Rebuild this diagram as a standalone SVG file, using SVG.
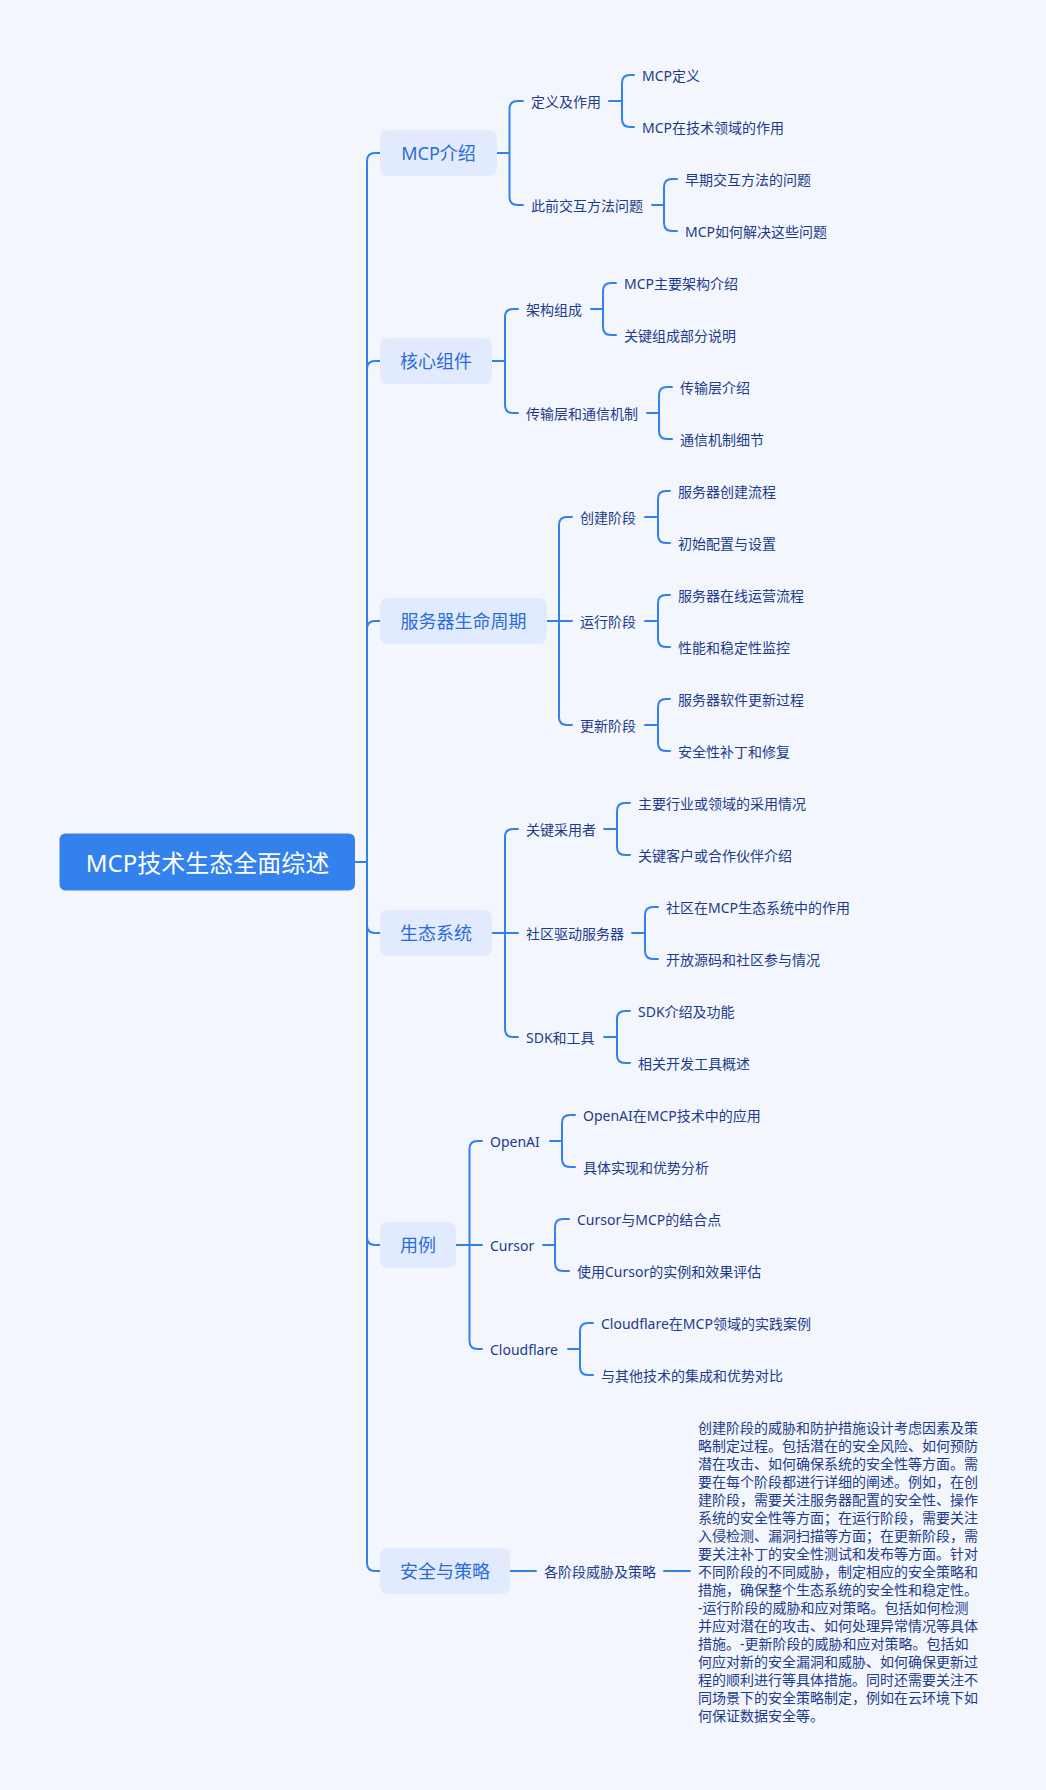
<svg xmlns="http://www.w3.org/2000/svg" width="1046" height="1790" viewBox="0 0 1046 1790">
<style>
text{font-family:"Noto Sans","Noto Sans CJK SC",sans-serif;dominant-baseline:central}
.ln{fill:none;stroke:#3381ED;stroke-width:2;stroke-linecap:round;stroke-linejoin:round}
.rootbox{fill:#3381EC}
.l1box{fill:#E2EBFD}
.t0{font-size:24px;fill:#FFFFFF;text-anchor:middle}
.t1{font-size:18px;fill:#2B6CDC;text-anchor:middle}
.t2{font-size:14px;fill:#213B8C}
</style>
<rect x="0" y="0" width="1046" height="1790" fill="#F4F6FD"/>
<g id="connectors" class="ln">
<path d="M355,862 H367"/>
<path d="M367,862 V161 Q367,153 375,153 H380"/>
<path d="M367,862 V369 Q367,361 375,361 H380"/>
<path d="M367,862 V629 Q367,621 375,621 H380"/>
<path d="M367,862 V925 Q367,933 375,933 H380"/>
<path d="M367,862 V1237 Q367,1245 375,1245 H380"/>
<path d="M367,862 V1563 Q367,1571 375,1571 H380"/>
<path d="M497,153 H509.5 M509.5,153 V109 Q509.5,101 517.5,101 H523 M509.5,153 V197 Q509.5,205 517.5,205 H523"/>
<path d="M492,361 H505 M505,361 V317 Q505,309 513,309 H518 M505,361 V405 Q505,413 513,413 H518"/>
<path d="M547,621 H572 M559,621 V525 Q559,517 567,517 H572 M559,621 V717 Q559,725 567,725 H572"/>
<path d="M492,933 H518 M505,933 V837 Q505,829 513,829 H518 M505,933 V1029 Q505,1037 513,1037 H518"/>
<path d="M456,1245 H482 M469.5,1245 V1149 Q469.5,1141 477.5,1141 H482 M469.5,1245 V1341 Q469.5,1349 477.5,1349 H482"/>
<path d="M510,1571 H536"/>
<path d="M609,101 H622 M622,101 V83 Q622,75 630,75 H634 M622,101 V119 Q622,127 630,127 H634"/>
<path d="M652,205 H664 M664,205 V187 Q664,179 672,179 H677 M664,205 V223 Q664,231 672,231 H677"/>
<path d="M591,309 H603 M603,309 V291 Q603,283 611,283 H616 M603,309 V327 Q603,335 611,335 H616"/>
<path d="M647,413 H659 M659,413 V395 Q659,387 667,387 H672 M659,413 V431 Q659,439 667,439 H672"/>
<path d="M645,517 H658 M658,517 V499 Q658,491 666,491 H670 M658,517 V535 Q658,543 666,543 H670"/>
<path d="M645,621 H658 M658,621 V603 Q658,595 666,595 H670 M658,621 V639 Q658,647 666,647 H670"/>
<path d="M645,725 H658 M658,725 V707 Q658,699 666,699 H670 M658,725 V743 Q658,751 666,751 H670"/>
<path d="M604,829 H617 M617,829 V811 Q617,803 625,803 H630 M617,829 V847 Q617,855 625,855 H630"/>
<path d="M632,933 H645 M645,933 V915 Q645,907 653,907 H658 M645,933 V951 Q645,959 653,959 H658"/>
<path d="M604,1037 H617 M617,1037 V1019 Q617,1011 625,1011 H630 M617,1037 V1055 Q617,1063 625,1063 H630"/>
<path d="M550,1141 H562 M562,1141 V1123 Q562,1115 570,1115 H575 M562,1141 V1159 Q562,1167 570,1167 H575"/>
<path d="M543,1245 H555 M555,1245 V1227 Q555,1219 563,1219 H569 M555,1245 V1263 Q555,1271 563,1271 H569"/>
<path d="M568,1349 H580 M580,1349 V1331 Q580,1323 588,1323 H593 M580,1349 V1367 Q580,1375 588,1375 H593"/>
<path d="M664,1571 H690"/>
</g>
<g id="root"><rect class="rootbox" x="59.5" y="833.5" width="295.5" height="57" rx="6"/><text class="t0" x="207.5" y="862">MCP技术生态全面综述</text></g>
<g id="n-mcp-intro"><rect class="l1box" x="380" y="130" width="117" height="46" rx="8"/><text class="t1" x="438.5" y="153">MCP介绍</text></g>
<g id="n-core"><rect class="l1box" x="380" y="338" width="112" height="46" rx="8"/><text class="t1" x="436" y="361">核心组件</text></g>
<g id="n-lifecycle"><rect class="l1box" x="380" y="598" width="167" height="46" rx="8"/><text class="t1" x="463.5" y="621">服务器生命周期</text></g>
<g id="n-eco"><rect class="l1box" x="380" y="910" width="112" height="46" rx="8"/><text class="t1" x="436" y="933">生态系统</text></g>
<g id="n-usecase"><rect class="l1box" x="380" y="1222" width="76" height="46" rx="8"/><text class="t1" x="418" y="1245">用例</text></g>
<g id="n-security"><rect class="l1box" x="380" y="1548" width="130" height="46" rx="8"/><text class="t1" x="445" y="1571">安全与策略</text></g>
<g id="n-def"><text class="t2" x="531" y="101">定义及作用</text></g>
<g id="n-prev"><text class="t2" x="531" y="205">此前交互方法问题</text></g>
<g id="n-arch"><text class="t2" x="526" y="309">架构组成</text></g>
<g id="n-trans"><text class="t2" x="526" y="413">传输层和通信机制</text></g>
<g id="n-create"><text class="t2" x="580" y="517">创建阶段</text></g>
<g id="n-run"><text class="t2" x="580" y="621">运行阶段</text></g>
<g id="n-update"><text class="t2" x="580" y="725">更新阶段</text></g>
<g id="n-adopt"><text class="t2" x="526" y="829">关键采用者</text></g>
<g id="n-community"><text class="t2" x="526" y="933">社区驱动服务器</text></g>
<g id="n-sdk"><text class="t2" x="526" y="1037">SDK和工具</text></g>
<g id="n-openai"><text class="t2" x="490" y="1141">OpenAI</text></g>
<g id="n-cursor"><text class="t2" x="490" y="1245">Cursor</text></g>
<g id="n-cloudflare"><text class="t2" x="490" y="1349">Cloudflare</text></g>
<g id="n-threat"><text class="t2" x="544" y="1571">各阶段威胁及策略</text></g>
<g id="leaf-1"><text class="t2" x="642" y="75">MCP定义</text></g>
<g id="leaf-2"><text class="t2" x="642" y="127">MCP在技术领域的作用</text></g>
<g id="leaf-3"><text class="t2" x="685" y="179">早期交互方法的问题</text></g>
<g id="leaf-4"><text class="t2" x="685" y="231">MCP如何解决这些问题</text></g>
<g id="leaf-5"><text class="t2" x="624" y="283">MCP主要架构介绍</text></g>
<g id="leaf-6"><text class="t2" x="624" y="335">关键组成部分说明</text></g>
<g id="leaf-7"><text class="t2" x="680" y="387">传输层介绍</text></g>
<g id="leaf-8"><text class="t2" x="680" y="439">通信机制细节</text></g>
<g id="leaf-9"><text class="t2" x="678" y="491">服务器创建流程</text></g>
<g id="leaf-10"><text class="t2" x="678" y="543">初始配置与设置</text></g>
<g id="leaf-11"><text class="t2" x="678" y="595">服务器在线运营流程</text></g>
<g id="leaf-12"><text class="t2" x="678" y="647">性能和稳定性监控</text></g>
<g id="leaf-13"><text class="t2" x="678" y="699">服务器软件更新过程</text></g>
<g id="leaf-14"><text class="t2" x="678" y="751">安全性补丁和修复</text></g>
<g id="leaf-15"><text class="t2" x="638" y="803">主要行业或领域的采用情况</text></g>
<g id="leaf-16"><text class="t2" x="638" y="855">关键客户或合作伙伴介绍</text></g>
<g id="leaf-17"><text class="t2" x="666" y="907">社区在MCP生态系统中的作用</text></g>
<g id="leaf-18"><text class="t2" x="666" y="959">开放源码和社区参与情况</text></g>
<g id="leaf-19"><text class="t2" x="638" y="1011">SDK介绍及功能</text></g>
<g id="leaf-20"><text class="t2" x="638" y="1063">相关开发工具概述</text></g>
<g id="leaf-21"><text class="t2" x="583" y="1115">OpenAI在MCP技术中的应用</text></g>
<g id="leaf-22"><text class="t2" x="583" y="1167">具体实现和优势分析</text></g>
<g id="leaf-23"><text class="t2" x="577" y="1219">Cursor与MCP的结合点</text></g>
<g id="leaf-24"><text class="t2" x="577" y="1271">使用Cursor的实例和效果评估</text></g>
<g id="leaf-25"><text class="t2" x="601" y="1323">Cloudflare在MCP领域的实践案例</text></g>
<g id="leaf-26"><text class="t2" x="601" y="1375">与其他技术的集成和优势对比</text></g>
<g id="leaf-27"><text class="t2" x="698" y="1427">
<tspan x="698" y="1427">创建阶段的威胁和防护措施设计考虑因素及策</tspan>
<tspan x="698" y="1445">略制定过程。包括潜在的安全风险、如何预防</tspan>
<tspan x="698" y="1463">潜在攻击、如何确保系统的安全性等方面。需</tspan>
<tspan x="698" y="1481">要在每个阶段都进行详细的阐述。例如，在创</tspan>
<tspan x="698" y="1499">建阶段，需要关注服务器配置的安全性、操作</tspan>
<tspan x="698" y="1517">系统的安全性等方面；在运行阶段，需要关注</tspan>
<tspan x="698" y="1535">入侵检测、漏洞扫描等方面；在更新阶段，需</tspan>
<tspan x="698" y="1553">要关注补丁的安全性测试和发布等方面。针对</tspan>
<tspan x="698" y="1571">不同阶段的不同威胁，制定相应的安全策略和</tspan>
<tspan x="698" y="1589">措施，确保整个生态系统的安全性和稳定性。</tspan>
<tspan x="698" y="1607">-运行阶段的威胁和应对策略。包括如何检测</tspan>
<tspan x="698" y="1625">并应对潜在的攻击、如何处理异常情况等具体</tspan>
<tspan x="698" y="1643">措施。-更新阶段的威胁和应对策略。包括如</tspan>
<tspan x="698" y="1661">何应对新的安全漏洞和威胁、如何确保更新过</tspan>
<tspan x="698" y="1679">程的顺利进行等具体措施。同时还需要关注不</tspan>
<tspan x="698" y="1697">同场景下的安全策略制定，例如在云环境下如</tspan>
<tspan x="698" y="1715">何保证数据安全等。</tspan>
</text></g>
</svg>
